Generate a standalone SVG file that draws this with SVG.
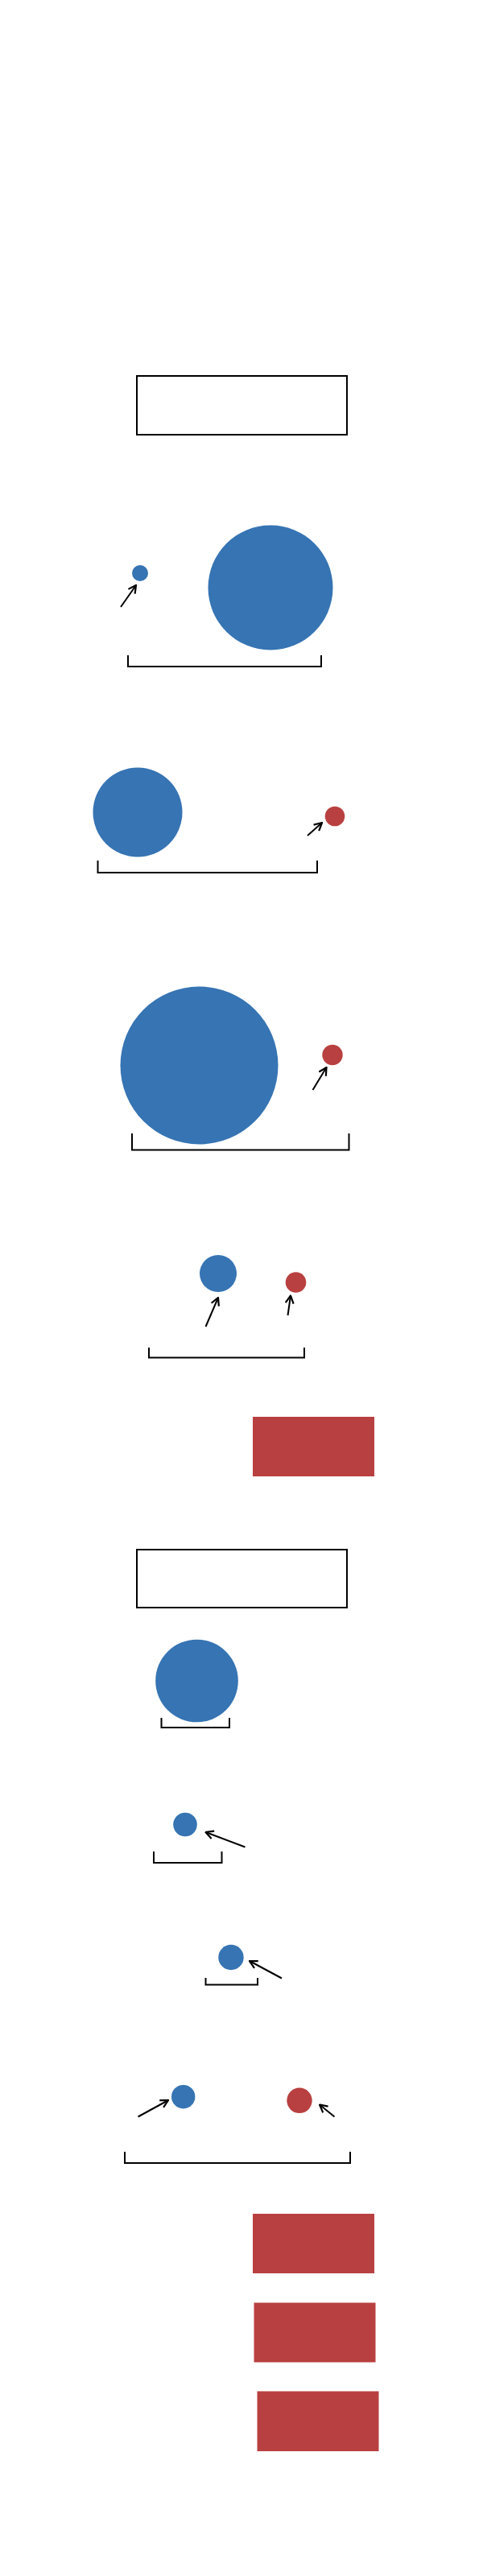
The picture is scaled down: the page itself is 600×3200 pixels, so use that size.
<svg xmlns="http://www.w3.org/2000/svg" width="600" height="3200" viewBox="0 0 600 3200">
<style>
.box{fill:#ffffff;stroke:#000000;stroke-width:2}
.blue{fill:#3674b3}
.red{fill:#b94040}
.br{fill:none;stroke:#000000;stroke-width:2}
.ar{fill:none;stroke:#000000;stroke-width:2;marker-end:url(#ah)}
</style>
<defs>
<marker id="ah" viewBox="0 0 12 12" markerWidth="12" markerHeight="12" markerUnits="userSpaceOnUse" refX="11" refY="6" orient="auto">
<path d="M1.5,1 L11,6 L1.5,11" fill="none" stroke="#000000" stroke-width="2.2"/>
</marker>
</defs>
<rect width="600" height="3200" fill="#ffffff"/>
<g id="box1"><rect class="box" x="170" y="467" width="261" height="73"/></g>
<g id="s1-small"><circle class="blue" cx="174" cy="712" r="10"/></g>
<g id="s1-big"><circle class="blue" cx="336" cy="730" r="77.5"/></g>
<g id="s2-big"><circle class="blue" cx="171" cy="1009" r="55.5"/></g>
<g id="s2-red"><circle class="red" cx="416" cy="1014" r="12.3"/></g>
<g id="s3-big"><circle class="blue" cx="247.5" cy="1323.5" r="98"/></g>
<g id="s3-red"><circle class="red" cx="413" cy="1310.5" r="12.7"/></g>
<g id="s4-blue"><circle class="blue" cx="271" cy="1582" r="23"/></g>
<g id="s4-red"><circle class="red" cx="367.5" cy="1593" r="12.8"/></g>
<g id="redrect1"><rect class="red" x="314" y="1760" width="151" height="74"/></g>
<g id="box2"><rect class="box" x="170" y="1925" width="261" height="72"/></g>
<g id="s5-blue"><circle class="blue" cx="244.5" cy="2088" r="51.3"/></g>
<g id="s6-blue"><circle class="blue" cx="230" cy="2266.5" r="14.8"/></g>
<g id="s7-blue"><circle class="blue" cx="287" cy="2431.5" r="15.7"/></g>
<g id="s8-blue"><circle class="blue" cx="227.7" cy="2604.7" r="14.7"/></g>
<g id="s8-red"><circle class="red" cx="372" cy="2609.3" r="15.7"/></g>
<g id="redrect2"><rect class="red" x="314" y="2750" width="151" height="74"/></g>
<g id="redrect3"><rect class="red" x="315.5" y="2860.5" width="151" height="74"/></g>
<g id="redrect4"><rect class="red" x="319.5" y="2970.5" width="151" height="74.5"/></g>
<g id="connectors">
<line class="ar" x1="150" y1="754" x2="169" y2="727"/>
<path class="br" d="M159,814 V828 H399 V814"/>
<line class="ar" x1="382" y1="1038" x2="400" y2="1022"/>
<path class="br" d="M121.5,1069 V1084 H394 V1069"/>
<line class="ar" x1="388.5" y1="1354" x2="405.5" y2="1326"/>
<path class="br" d="M164,1408 V1428.5 H433.5 V1408"/>
<line class="ar" x1="255.5" y1="1648" x2="271" y2="1612"/>
<line class="ar" x1="357.5" y1="1634" x2="361" y2="1609.5"/>
<path class="br" d="M185,1674 V1686.5 H378 V1674"/>
<path class="br" d="M200.5,2134 V2146 H285 V2134"/>
<line class="ar" x1="304.5" y1="2294.5" x2="255.5" y2="2276"/>
<path class="br" d="M191,2300 V2314 H275.5 V2300"/>
<line class="ar" x1="350" y1="2457.5" x2="310" y2="2436"/>
<path class="br" d="M255.5,2457 V2465.5 H320 V2457"/>
<line class="ar" x1="171.5" y1="2629.5" x2="209" y2="2609"/>
<line class="ar" x1="415.5" y1="2629.5" x2="397" y2="2614.5"/>
<path class="br" d="M155,2673 V2687 H435 V2673"/>
</g>
</svg>
